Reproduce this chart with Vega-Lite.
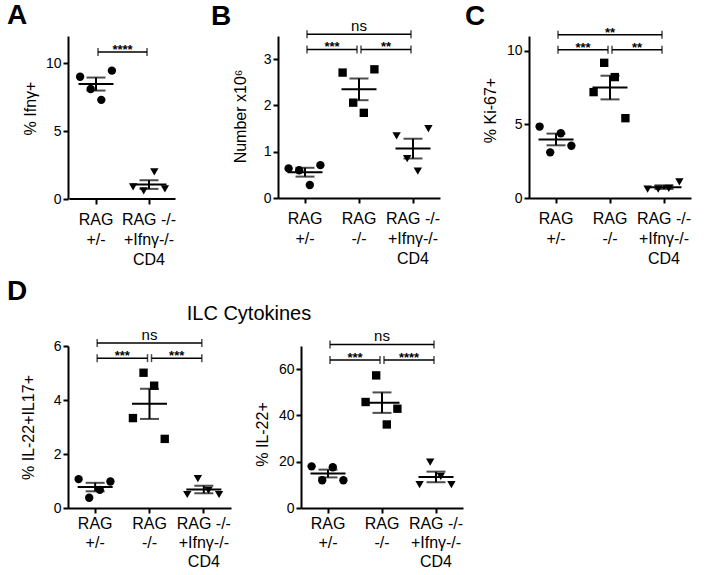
{
"$schema": "https://vega.github.io/schema/vega-lite/v6.json",
"padding": {"left": 7, "top": 2, "right": 2, "bottom": 2},
"config": {
 "font": "Liberation Sans",
 "view": {"stroke": null},
 "axis": {"domainColor": "black", "domainWidth": 2, "tickColor": "black", "tickWidth": 2, "tickSize": 5, "labelColor": "black", "labelFontSize": 14, "titleColor": "black", "titleFontSize": 16, "titleFontWeight": "normal", "grid": false, "labelPadding": 2, "titleBaseline": "alphabetic"},
 "axisX": {"labelFontSize": 16, "labelAngle": 0, "labelLineHeight": 20, "labelPadding": 7, "labelBaseline": "top", "labelOverlap": false, "labelBound": false, "labelFlush": false},
 "axisY": {"titleAngle": -90},
 "title": {"color": "black"}
},
"datasets": {
 "pts": [
  {"panel":"A","group":"RAG +/-","mouse":1,"value":9.0},
  {"panel":"A","group":"RAG +/-","mouse":2,"value":8.1},
  {"panel":"A","group":"RAG +/-","mouse":3,"value":7.3},
  {"panel":"A","group":"RAG +/-","mouse":4,"value":9.45},
  {"panel":"A","group":"RAG -/- +Ifnγ-/- CD4","mouse":1,"value":0.9},
  {"panel":"A","group":"RAG -/- +Ifnγ-/- CD4","mouse":2,"value":0.6},
  {"panel":"A","group":"RAG -/- +Ifnγ-/- CD4","mouse":3,"value":2.0},
  {"panel":"A","group":"RAG -/- +Ifnγ-/- CD4","mouse":4,"value":0.75},
  {"panel":"B","group":"RAG +/-","mouse":1,"value":0.64},
  {"panel":"B","group":"RAG +/-","mouse":2,"value":0.60},
  {"panel":"B","group":"RAG +/-","mouse":3,"value":0.28},
  {"panel":"B","group":"RAG +/-","mouse":4,"value":0.71},
  {"panel":"B","group":"RAG -/-","mouse":1,"value":2.71},
  {"panel":"B","group":"RAG -/-","mouse":2,"value":2.06},
  {"panel":"B","group":"RAG -/-","mouse":3,"value":1.84},
  {"panel":"B","group":"RAG -/-","mouse":4,"value":2.78},
  {"panel":"B","group":"RAG -/- +Ifnγ-/- CD4","mouse":1,"value":1.34},
  {"panel":"B","group":"RAG -/- +Ifnγ-/- CD4","mouse":2,"value":0.85},
  {"panel":"B","group":"RAG -/- +Ifnγ-/- CD4","mouse":3,"value":0.58},
  {"panel":"B","group":"RAG -/- +Ifnγ-/- CD4","mouse":4,"value":1.50},
  {"panel":"C","group":"RAG +/-","mouse":1,"value":4.85},
  {"panel":"C","group":"RAG +/-","mouse":2,"value":3.1},
  {"panel":"C","group":"RAG +/-","mouse":3,"value":4.4},
  {"panel":"C","group":"RAG +/-","mouse":4,"value":3.55},
  {"panel":"C","group":"RAG -/-","mouse":1,"value":7.19},
  {"panel":"C","group":"RAG -/-","mouse":2,"value":9.18},
  {"panel":"C","group":"RAG -/-","mouse":3,"value":8.21},
  {"panel":"C","group":"RAG -/-","mouse":4,"value":5.42},
  {"panel":"C","group":"RAG -/- +Ifnγ-/- CD4","mouse":1,"value":0.6},
  {"panel":"C","group":"RAG -/- +Ifnγ-/- CD4","mouse":2,"value":0.6},
  {"panel":"C","group":"RAG -/- +Ifnγ-/- CD4","mouse":3,"value":0.65},
  {"panel":"C","group":"RAG -/- +Ifnγ-/- CD4","mouse":4,"value":1.1},
  {"panel":"D1","group":"RAG +/-","mouse":1,"value":1.07},
  {"panel":"D1","group":"RAG +/-","mouse":2,"value":0.38},
  {"panel":"D1","group":"RAG +/-","mouse":3,"value":0.67},
  {"panel":"D1","group":"RAG +/-","mouse":4,"value":0.98},
  {"panel":"D1","group":"RAG -/-","mouse":1,"value":3.33},
  {"panel":"D1","group":"RAG -/-","mouse":2,"value":5.01},
  {"panel":"D1","group":"RAG -/-","mouse":3,"value":4.53},
  {"panel":"D1","group":"RAG -/-","mouse":4,"value":2.56},
  {"panel":"D1","group":"RAG -/- +Ifnγ-/- CD4","mouse":1,"value":0.5},
  {"panel":"D1","group":"RAG -/- +Ifnγ-/- CD4","mouse":2,"value":1.09},
  {"panel":"D1","group":"RAG -/- +Ifnγ-/- CD4","mouse":3,"value":0.65},
  {"panel":"D1","group":"RAG -/- +Ifnγ-/- CD4","mouse":4,"value":0.5},
  {"panel":"D2","group":"RAG +/-","mouse":1,"value":18.0},
  {"panel":"D2","group":"RAG +/-","mouse":2,"value":12.0},
  {"panel":"D2","group":"RAG +/-","mouse":3,"value":17.6},
  {"panel":"D2","group":"RAG +/-","mouse":4,"value":12.0},
  {"panel":"D2","group":"RAG -/-","mouse":1,"value":45.8},
  {"panel":"D2","group":"RAG -/-","mouse":2,"value":57.3},
  {"panel":"D2","group":"RAG -/-","mouse":3,"value":36.1},
  {"panel":"D2","group":"RAG -/-","mouse":4,"value":42.9},
  {"panel":"D2","group":"RAG -/- +Ifnγ-/- CD4","mouse":1,"value":10.1},
  {"panel":"D2","group":"RAG -/- +Ifnγ-/- CD4","mouse":2,"value":19.8},
  {"panel":"D2","group":"RAG -/- +Ifnγ-/- CD4","mouse":3,"value":13.7},
  {"panel":"D2","group":"RAG -/- +Ifnγ-/- CD4","mouse":4,"value":10.1}
 ],
 "brk": [
  {"panel":"A","tier":1,"from":"RAG +/-","to":"RAG -/- +Ifnγ-/- CD4","level":10.83,"label":"****"},
  {"panel":"B","tier":2,"from":"RAG +/-","to":"RAG -/- +Ifnγ-/- CD4","level":3.54,"label":"ns"},
  {"panel":"B","tier":1,"from":"RAG +/-","to":"RAG -/-","level":3.21,"label":"***"},
  {"panel":"B","tier":1,"from":"RAG -/-","to":"RAG -/- +Ifnγ-/- CD4","level":3.21,"label":"**"},
  {"panel":"C","tier":2,"from":"RAG +/-","to":"RAG -/- +Ifnγ-/- CD4","level":11.09,"label":"**"},
  {"panel":"C","tier":1,"from":"RAG +/-","to":"RAG -/-","level":10.07,"label":"***"},
  {"panel":"C","tier":1,"from":"RAG -/-","to":"RAG -/- +Ifnγ-/- CD4","level":10.07,"label":"**"},
  {"panel":"D1","tier":2,"from":"RAG +/-","to":"RAG -/- +Ifnγ-/- CD4","level":6.11,"label":"ns"},
  {"panel":"D1","tier":1,"from":"RAG +/-","to":"RAG -/-","level":5.55,"label":"***"},
  {"panel":"D1","tier":1,"from":"RAG -/-","to":"RAG -/- +Ifnγ-/- CD4","level":5.55,"label":"***"},
  {"panel":"D2","tier":2,"from":"RAG +/-","to":"RAG -/- +Ifnγ-/- CD4","level":70.7,"label":"ns"},
  {"panel":"D2","tier":1,"from":"RAG +/-","to":"RAG -/-","level":63.9,"label":"***"},
  {"panel":"D2","tier":1,"from":"RAG -/-","to":"RAG -/- +Ifnγ-/- CD4","level":63.9,"label":"****"}
 ]
},
"spacing": 11,
"vconcat": [
 {
  "hconcat": [
   {
    "width": 121, "height": 163,
    "title": {"text": "A", "anchor": "start", "frame": "group", "dx": -61, "fontSize": 28, "fontWeight": "bold", "offset": -16, "baseline": "alphabetic"},
    "layer": [
     {"data": {"name": "pts"}, "transform": [{"filter": "datum.panel == 'A'"}],
      "mark": {"type": "point", "filled": true, "size": 70, "color": "black", "opacity": 1},
      "encoding": {
       "x": {"field": "group", "type": "nominal", "title": null, "scale": {"type": "band", "domain": ["RAG +/-", "RAG -/- +Ifnγ-/- CD4"], "paddingInner": 0, "paddingOuter": 0.1415, "align": 0.1}, "axis": {"title": null, "domain": false, "labelExpr": "datum.value == 'RAG +/-' ? ['RAG', '+/-'] : datum.value == 'RAG -/-' ? ['RAG', '-/-'] : ['RAG -/-', '+Ifnγ-/-', 'CD4']"}},
       "xOffset": {"field": "mouse", "type": "nominal", "scale": {"type": "point", "padding": 4.5}},
       "y": {"field": "value", "type": "quantitative", "title": "% Ifnγ+", "scale": {"domain": [0, 12], "nice": false}, "axis": {"title": "% Ifnγ+", "values": [0, 5, 10], "format": "d", "titleX": -33, "titleY": 72}},
       "shape": {"field": "group", "type": "nominal", "scale": {"domain": ["RAG +/-", "RAG -/-", "RAG -/- +Ifnγ-/- CD4"], "range": ["circle", "square", "triangle-down"]}, "legend": null}
      }},
     {"data": {"name": "pts"}, "transform": [{"filter": "datum.panel == 'A'"}],
      "mark": {"type": "tick", "orient": "horizontal", "size": 35, "thickness": 2, "color": "black"},
      "encoding": {"x": {"field": "group", "type": "nominal", "title": null}, "y": {"aggregate": "mean", "field": "value", "type": "quantitative", "title": "% Ifnγ+"}}},
     {"data": {"name": "pts"}, "transform": [{"filter": "datum.panel == 'A'"}],
      "mark": {"type": "errorbar", "extent": "stderr", "color": "black", "thickness": 2, "ticks": {"size": 19, "thickness": 2, "color": "black"}},
      "encoding": {"x": {"field": "group", "type": "nominal", "title": null}, "y": {"field": "value", "type": "quantitative", "title": "% Ifnγ+"}}},
     {"data": {"name": "brk"}, "transform": [{"filter": "datum.panel == 'A'"}],
      "mark": {"type": "rule", "strokeWidth": 2, "color": "black"},
      "encoding": {"x": {"datum": "RAG +/-", "type": "nominal", "bandPosition": 0, "title": null}, "x2": {"datum": "RAG -/- +Ifnγ-/- CD4", "bandPosition": 1}, "y": {"datum": 0, "type": "quantitative", "title": "% Ifnγ+"}}},
     {"data": {"name": "brk"}, "transform": [{"filter": "datum.panel == 'A'"}],
      "mark": {"type": "rule", "strokeWidth": 1.5, "color": "black", "xOffset": 2, "x2Offset": -2},
      "encoding": {"x": {"field": "from", "type": "nominal", "title": null}, "x2": {"field": "to"}, "y": {"field": "level", "type": "quantitative", "title": "% Ifnγ+"}}},
     {"data": {"name": "brk"}, "transform": [{"filter": "datum.panel == 'A'"}],
      "mark": {"type": "tick", "orient": "vertical", "size": 8, "thickness": 1.5, "color": "black", "xOffset": 2},
      "encoding": {"x": {"field": "from", "type": "nominal", "title": null}, "y": {"field": "level", "type": "quantitative", "title": "% Ifnγ+"}}},
     {"data": {"name": "brk"}, "transform": [{"filter": "datum.panel == 'A'"}],
      "mark": {"type": "tick", "orient": "vertical", "size": 8, "thickness": 1.5, "color": "black", "xOffset": -2},
      "encoding": {"x": {"field": "to", "type": "nominal", "title": null}, "y": {"field": "level", "type": "quantitative", "title": "% Ifnγ+"}}},
     {"data": {"name": "brk"}, "transform": [{"filter": "datum.panel == 'A' && datum.tier == 1"}],
      "mark": {"type": "text", "fontSize": 13, "fontWeight": "bold", "baseline": "alphabetic", "dy": 2, "color": "black"},
      "encoding": {"x": {"field": "from", "type": "nominal", "bandPosition": 1, "title": null}, "y": {"field": "level", "type": "quantitative", "title": "% Ifnγ+"}, "text": {"field": "label"}}}
    ]
   },
   {
    "width": 162, "height": 162,
    "title": {"text": "B", "anchor": "start", "frame": "group", "dx": -67, "fontSize": 28, "fontWeight": "bold", "offset": -34, "baseline": "alphabetic"},
    "layer": [
     {"data": {"name": "pts"}, "transform": [{"filter": "datum.panel == 'B'"}],
      "mark": {"type": "point", "filled": true, "size": 70, "color": "black", "opacity": 1},
      "encoding": {
       "x": {"field": "group", "type": "nominal", "title": null, "scale": {"type": "band", "domain": ["RAG +/-", "RAG -/-", "RAG -/- +Ifnγ-/- CD4"], "paddingInner": 0, "paddingOuter": 0}, "axis": {"title": null, "labelExpr": "datum.value == 'RAG +/-' ? ['RAG', '+/-'] : datum.value == 'RAG -/-' ? ['RAG', '-/-'] : ['RAG -/-', '+Ifnγ-/-', 'CD4']"}},
       "xOffset": {"field": "mouse", "type": "nominal", "scale": {"type": "point", "padding": 4.5}},
       "y": {"field": "value", "type": "quantitative", "title": "Number x10⁶", "scale": {"domain": [0, 3.5], "nice": false}, "axis": {"title": "Number x10⁶", "values": [0, 1, 2, 3], "format": "d", "titleX": -33, "titleY": 80}},
       "shape": {"field": "group", "type": "nominal", "scale": {"domain": ["RAG +/-", "RAG -/-", "RAG -/- +Ifnγ-/- CD4"], "range": ["circle", "square", "triangle-down"]}, "legend": null}
      }},
     {"data": {"name": "pts"}, "transform": [{"filter": "datum.panel == 'B'"}],
      "mark": {"type": "tick", "orient": "horizontal", "size": 35, "thickness": 2, "color": "black"},
      "encoding": {"x": {"field": "group", "type": "nominal", "title": null}, "y": {"aggregate": "mean", "field": "value", "type": "quantitative", "title": "Number x10⁶"}}},
     {"data": {"name": "pts"}, "transform": [{"filter": "datum.panel == 'B'"}],
      "mark": {"type": "errorbar", "extent": "stderr", "color": "black", "thickness": 2, "ticks": {"size": 19, "thickness": 2, "color": "black"}},
      "encoding": {"x": {"field": "group", "type": "nominal", "title": null}, "y": {"field": "value", "type": "quantitative", "title": "Number x10⁶"}}},
     {"data": {"name": "brk"}, "transform": [{"filter": "datum.panel == 'B'"}],
      "mark": {"type": "rule", "strokeWidth": 1.5, "color": "black", "xOffset": 2, "x2Offset": -2},
      "encoding": {"x": {"field": "from", "type": "nominal", "title": null}, "x2": {"field": "to"}, "y": {"field": "level", "type": "quantitative", "title": "Number x10⁶"}}},
     {"data": {"name": "brk"}, "transform": [{"filter": "datum.panel == 'B'"}],
      "mark": {"type": "tick", "orient": "vertical", "size": 8, "thickness": 1.5, "color": "black", "xOffset": 2},
      "encoding": {"x": {"field": "from", "type": "nominal", "title": null}, "y": {"field": "level", "type": "quantitative", "title": "Number x10⁶"}}},
     {"data": {"name": "brk"}, "transform": [{"filter": "datum.panel == 'B'"}],
      "mark": {"type": "tick", "orient": "vertical", "size": 8, "thickness": 1.5, "color": "black", "xOffset": -2},
      "encoding": {"x": {"field": "to", "type": "nominal", "title": null}, "y": {"field": "level", "type": "quantitative", "title": "Number x10⁶"}}},
     {"data": {"name": "brk"}, "transform": [{"filter": "datum.panel == 'B' && datum.tier == 2"}],
      "mark": {"type": "text", "fontSize": 15, "baseline": "alphabetic", "dy": -3, "color": "black"},
      "encoding": {"x": {"field": "from", "type": "nominal", "bandPosition": 1.5, "title": null}, "y": {"field": "level", "type": "quantitative", "title": "Number x10⁶"}, "text": {"field": "label"}}},
     {"data": {"name": "brk"}, "transform": [{"filter": "datum.panel == 'B' && datum.tier == 1"}],
      "mark": {"type": "text", "fontSize": 13, "fontWeight": "bold", "baseline": "alphabetic", "dy": 2, "color": "black"},
      "encoding": {"x": {"field": "from", "type": "nominal", "bandPosition": 1, "title": null}, "y": {"field": "level", "type": "quantitative", "title": "Number x10⁶"}, "text": {"field": "label"}}}
    ]
   },
   {
    "width": 162, "height": 162,
    "title": {"text": "C", "anchor": "start", "frame": "group", "dx": -64, "fontSize": 28, "fontWeight": "bold", "offset": -26, "baseline": "alphabetic"},
    "layer": [
     {"data": {"name": "pts"}, "transform": [{"filter": "datum.panel == 'C'"}],
      "mark": {"type": "point", "filled": true, "size": 70, "color": "black", "opacity": 1},
      "encoding": {
       "x": {"field": "group", "type": "nominal", "title": null, "scale": {"type": "band", "domain": ["RAG +/-", "RAG -/-", "RAG -/- +Ifnγ-/- CD4"], "paddingInner": 0, "paddingOuter": 0}, "axis": {"title": null, "labelExpr": "datum.value == 'RAG +/-' ? ['RAG', '+/-'] : datum.value == 'RAG -/-' ? ['RAG', '-/-'] : ['RAG -/-', '+Ifnγ-/-', 'CD4']"}},
       "xOffset": {"field": "mouse", "type": "nominal", "scale": {"type": "point", "padding": 4.5}},
       "y": {"field": "value", "type": "quantitative", "title": "% Ki-67+", "scale": {"domain": [0, 11], "nice": false}, "axis": {"title": "% Ki-67+", "values": [0, 5, 10], "format": "d", "titleX": -34, "titleY": 74}},
       "shape": {"field": "group", "type": "nominal", "scale": {"domain": ["RAG +/-", "RAG -/-", "RAG -/- +Ifnγ-/- CD4"], "range": ["circle", "square", "triangle-down"]}, "legend": null}
      }},
     {"data": {"name": "pts"}, "transform": [{"filter": "datum.panel == 'C'"}],
      "mark": {"type": "tick", "orient": "horizontal", "size": 35, "thickness": 2, "color": "black"},
      "encoding": {"x": {"field": "group", "type": "nominal", "title": null}, "y": {"aggregate": "mean", "field": "value", "type": "quantitative", "title": "% Ki-67+"}}},
     {"data": {"name": "pts"}, "transform": [{"filter": "datum.panel == 'C'"}],
      "mark": {"type": "errorbar", "extent": "stderr", "color": "black", "thickness": 2, "ticks": {"size": 19, "thickness": 2, "color": "black"}},
      "encoding": {"x": {"field": "group", "type": "nominal", "title": null}, "y": {"field": "value", "type": "quantitative", "title": "% Ki-67+"}}},
     {"data": {"name": "brk"}, "transform": [{"filter": "datum.panel == 'C'"}],
      "mark": {"type": "rule", "strokeWidth": 1.5, "color": "black", "xOffset": 2, "x2Offset": -2},
      "encoding": {"x": {"field": "from", "type": "nominal", "title": null}, "x2": {"field": "to"}, "y": {"field": "level", "type": "quantitative", "title": "% Ki-67+"}}},
     {"data": {"name": "brk"}, "transform": [{"filter": "datum.panel == 'C'"}],
      "mark": {"type": "tick", "orient": "vertical", "size": 8, "thickness": 1.5, "color": "black", "xOffset": 2},
      "encoding": {"x": {"field": "from", "type": "nominal", "title": null}, "y": {"field": "level", "type": "quantitative", "title": "% Ki-67+"}}},
     {"data": {"name": "brk"}, "transform": [{"filter": "datum.panel == 'C'"}],
      "mark": {"type": "tick", "orient": "vertical", "size": 8, "thickness": 1.5, "color": "black", "xOffset": -2},
      "encoding": {"x": {"field": "to", "type": "nominal", "title": null}, "y": {"field": "level", "type": "quantitative", "title": "% Ki-67+"}}},
     {"data": {"name": "brk"}, "transform": [{"filter": "datum.panel == 'C' && datum.tier == 2"}],
      "mark": {"type": "text", "fontSize": 13, "fontWeight": "bold", "baseline": "alphabetic", "dy": 2, "color": "black"},
      "encoding": {"x": {"field": "from", "type": "nominal", "bandPosition": 1.5, "title": null}, "y": {"field": "level", "type": "quantitative", "title": "% Ki-67+"}, "text": {"field": "label"}}},
     {"data": {"name": "brk"}, "transform": [{"filter": "datum.panel == 'C' && datum.tier == 1"}],
      "mark": {"type": "text", "fontSize": 13, "fontWeight": "bold", "baseline": "alphabetic", "dy": 2, "color": "black"},
      "encoding": {"x": {"field": "from", "type": "nominal", "bandPosition": 1, "title": null}, "y": {"field": "level", "type": "quantitative", "title": "% Ki-67+"}, "text": {"field": "label"}}}
    ]
   }
  ],
  "spacing": 89,
  "bounds": "flush"
 },
 {
  "title": {"text": "D", "anchor": "start", "frame": "bounds", "dx": -13, "fontSize": 28, "fontWeight": "bold", "offset": -24, "baseline": "alphabetic"},
  "hconcat": [
   {
    "width": 163, "height": 162,
    "title": {"text": "ILC Cytokines", "anchor": "start", "align": "center", "frame": "group", "dx": 181, "fontSize": 20, "fontWeight": "normal", "offset": -12, "baseline": "alphabetic"},
    "layer": [
     {"data": {"name": "pts"}, "transform": [{"filter": "datum.panel == 'D1'"}],
      "mark": {"type": "point", "filled": true, "size": 70, "color": "black", "opacity": 1},
      "encoding": {
       "x": {"field": "group", "type": "nominal", "title": null, "scale": {"type": "band", "domain": ["RAG +/-", "RAG -/-", "RAG -/- +Ifnγ-/- CD4"], "paddingInner": 0, "paddingOuter": 0}, "axis": {"title": null, "labelPadding": 2, "labelLineHeight": 19, "labelExpr": "datum.value == 'RAG +/-' ? ['RAG', '+/-'] : datum.value == 'RAG -/-' ? ['RAG', '-/-'] : ['RAG -/-', '+Ifnγ-/-', 'CD4']"}},
       "xOffset": {"field": "mouse", "type": "nominal", "scale": {"type": "point", "padding": 4.5}},
       "y": {"field": "value", "type": "quantitative", "title": "% IL-22+IL17+", "scale": {"domain": [0, 6], "nice": false}, "axis": {"title": "% IL-22+IL17+", "values": [0, 2, 4, 6], "format": "d", "titleX": -35}},
       "shape": {"field": "group", "type": "nominal", "scale": {"domain": ["RAG +/-", "RAG -/-", "RAG -/- +Ifnγ-/- CD4"], "range": ["circle", "square", "triangle-down"]}, "legend": null}
      }},
     {"data": {"name": "pts"}, "transform": [{"filter": "datum.panel == 'D1'"}],
      "mark": {"type": "tick", "orient": "horizontal", "size": 35, "thickness": 2, "color": "black"},
      "encoding": {"x": {"field": "group", "type": "nominal", "title": null}, "y": {"aggregate": "mean", "field": "value", "type": "quantitative", "title": "% IL-22+IL17+"}}},
     {"data": {"name": "pts"}, "transform": [{"filter": "datum.panel == 'D1'"}],
      "mark": {"type": "errorbar", "extent": "stderr", "color": "black", "thickness": 2, "ticks": {"size": 19, "thickness": 2, "color": "black"}},
      "encoding": {"x": {"field": "group", "type": "nominal", "title": null}, "y": {"field": "value", "type": "quantitative", "title": "% IL-22+IL17+"}}},
     {"data": {"name": "brk"}, "transform": [{"filter": "datum.panel == 'D1'"}],
      "mark": {"type": "rule", "strokeWidth": 1.5, "color": "black", "xOffset": 2, "x2Offset": -2},
      "encoding": {"x": {"field": "from", "type": "nominal", "title": null}, "x2": {"field": "to"}, "y": {"field": "level", "type": "quantitative", "title": "% IL-22+IL17+"}}},
     {"data": {"name": "brk"}, "transform": [{"filter": "datum.panel == 'D1'"}],
      "mark": {"type": "tick", "orient": "vertical", "size": 8, "thickness": 1.5, "color": "black", "xOffset": 2},
      "encoding": {"x": {"field": "from", "type": "nominal", "title": null}, "y": {"field": "level", "type": "quantitative", "title": "% IL-22+IL17+"}}},
     {"data": {"name": "brk"}, "transform": [{"filter": "datum.panel == 'D1'"}],
      "mark": {"type": "tick", "orient": "vertical", "size": 8, "thickness": 1.5, "color": "black", "xOffset": -2},
      "encoding": {"x": {"field": "to", "type": "nominal", "title": null}, "y": {"field": "level", "type": "quantitative", "title": "% IL-22+IL17+"}}},
     {"data": {"name": "brk"}, "transform": [{"filter": "datum.panel == 'D1' && datum.tier == 2"}],
      "mark": {"type": "text", "fontSize": 15, "baseline": "alphabetic", "dy": -3, "color": "black"},
      "encoding": {"x": {"field": "from", "type": "nominal", "bandPosition": 1.5, "title": null}, "y": {"field": "level", "type": "quantitative", "title": "% IL-22+IL17+"}, "text": {"field": "label"}}},
     {"data": {"name": "brk"}, "transform": [{"filter": "datum.panel == 'D1' && datum.tier == 1"}],
      "mark": {"type": "text", "fontSize": 13, "fontWeight": "bold", "baseline": "alphabetic", "dy": 2, "color": "black"},
      "encoding": {"x": {"field": "from", "type": "nominal", "bandPosition": 1, "title": null}, "y": {"field": "level", "type": "quantitative", "title": "% IL-22+IL17+"}, "text": {"field": "label"}}}
    ]
   },
   {
    "width": 162, "height": 162,
    "layer": [
     {"data": {"name": "pts"}, "transform": [{"filter": "datum.panel == 'D2'"}],
      "mark": {"type": "point", "filled": true, "size": 70, "color": "black", "opacity": 1},
      "encoding": {
       "x": {"field": "group", "type": "nominal", "title": null, "scale": {"type": "band", "domain": ["RAG +/-", "RAG -/-", "RAG -/- +Ifnγ-/- CD4"], "paddingInner": 0, "paddingOuter": 0}, "axis": {"title": null, "labelPadding": 2, "labelLineHeight": 19, "labelExpr": "datum.value == 'RAG +/-' ? ['RAG', '+/-'] : datum.value == 'RAG -/-' ? ['RAG', '-/-'] : ['RAG -/-', '+Ifnγ-/-', 'CD4']"}},
       "xOffset": {"field": "mouse", "type": "nominal", "scale": {"type": "point", "padding": 4.5}},
       "y": {"field": "value", "type": "quantitative", "title": "% IL-22+", "scale": {"domain": [0, 70], "nice": false}, "axis": {"title": "% IL-22+", "values": [0, 20, 40, 60], "format": "d", "titleX": -34, "titleY": 88}},
       "shape": {"field": "group", "type": "nominal", "scale": {"domain": ["RAG +/-", "RAG -/-", "RAG -/- +Ifnγ-/- CD4"], "range": ["circle", "square", "triangle-down"]}, "legend": null}
      }},
     {"data": {"name": "pts"}, "transform": [{"filter": "datum.panel == 'D2'"}],
      "mark": {"type": "tick", "orient": "horizontal", "size": 35, "thickness": 2, "color": "black"},
      "encoding": {"x": {"field": "group", "type": "nominal", "title": null}, "y": {"aggregate": "mean", "field": "value", "type": "quantitative", "title": "% IL-22+"}}},
     {"data": {"name": "pts"}, "transform": [{"filter": "datum.panel == 'D2'"}],
      "mark": {"type": "errorbar", "extent": "stderr", "color": "black", "thickness": 2, "ticks": {"size": 19, "thickness": 2, "color": "black"}},
      "encoding": {"x": {"field": "group", "type": "nominal", "title": null}, "y": {"field": "value", "type": "quantitative", "title": "% IL-22+"}}},
     {"data": {"name": "brk"}, "transform": [{"filter": "datum.panel == 'D2'"}],
      "mark": {"type": "rule", "strokeWidth": 1.5, "color": "black", "xOffset": 2, "x2Offset": -2},
      "encoding": {"x": {"field": "from", "type": "nominal", "title": null}, "x2": {"field": "to"}, "y": {"field": "level", "type": "quantitative", "title": "% IL-22+"}}},
     {"data": {"name": "brk"}, "transform": [{"filter": "datum.panel == 'D2'"}],
      "mark": {"type": "tick", "orient": "vertical", "size": 8, "thickness": 1.5, "color": "black", "xOffset": 2},
      "encoding": {"x": {"field": "from", "type": "nominal", "title": null}, "y": {"field": "level", "type": "quantitative", "title": "% IL-22+"}}},
     {"data": {"name": "brk"}, "transform": [{"filter": "datum.panel == 'D2'"}],
      "mark": {"type": "tick", "orient": "vertical", "size": 8, "thickness": 1.5, "color": "black", "xOffset": -2},
      "encoding": {"x": {"field": "to", "type": "nominal", "title": null}, "y": {"field": "level", "type": "quantitative", "title": "% IL-22+"}}},
     {"data": {"name": "brk"}, "transform": [{"filter": "datum.panel == 'D2' && datum.tier == 2"}],
      "mark": {"type": "text", "fontSize": 15, "baseline": "alphabetic", "dy": -3, "color": "black"},
      "encoding": {"x": {"field": "from", "type": "nominal", "bandPosition": 1.5, "title": null}, "y": {"field": "level", "type": "quantitative", "title": "% IL-22+"}, "text": {"field": "label"}}},
     {"data": {"name": "brk"}, "transform": [{"filter": "datum.panel == 'D2' && datum.tier == 1"}],
      "mark": {"type": "text", "fontSize": 13, "fontWeight": "bold", "baseline": "alphabetic", "dy": 2, "color": "black"},
      "encoding": {"x": {"field": "from", "type": "nominal", "bandPosition": 1, "title": null}, "y": {"field": "level", "type": "quantitative", "title": "% IL-22+"}, "text": {"field": "label"}}}
    ]
   }
  ],
  "spacing": 70,
  "bounds": "flush"
 }
]
}
